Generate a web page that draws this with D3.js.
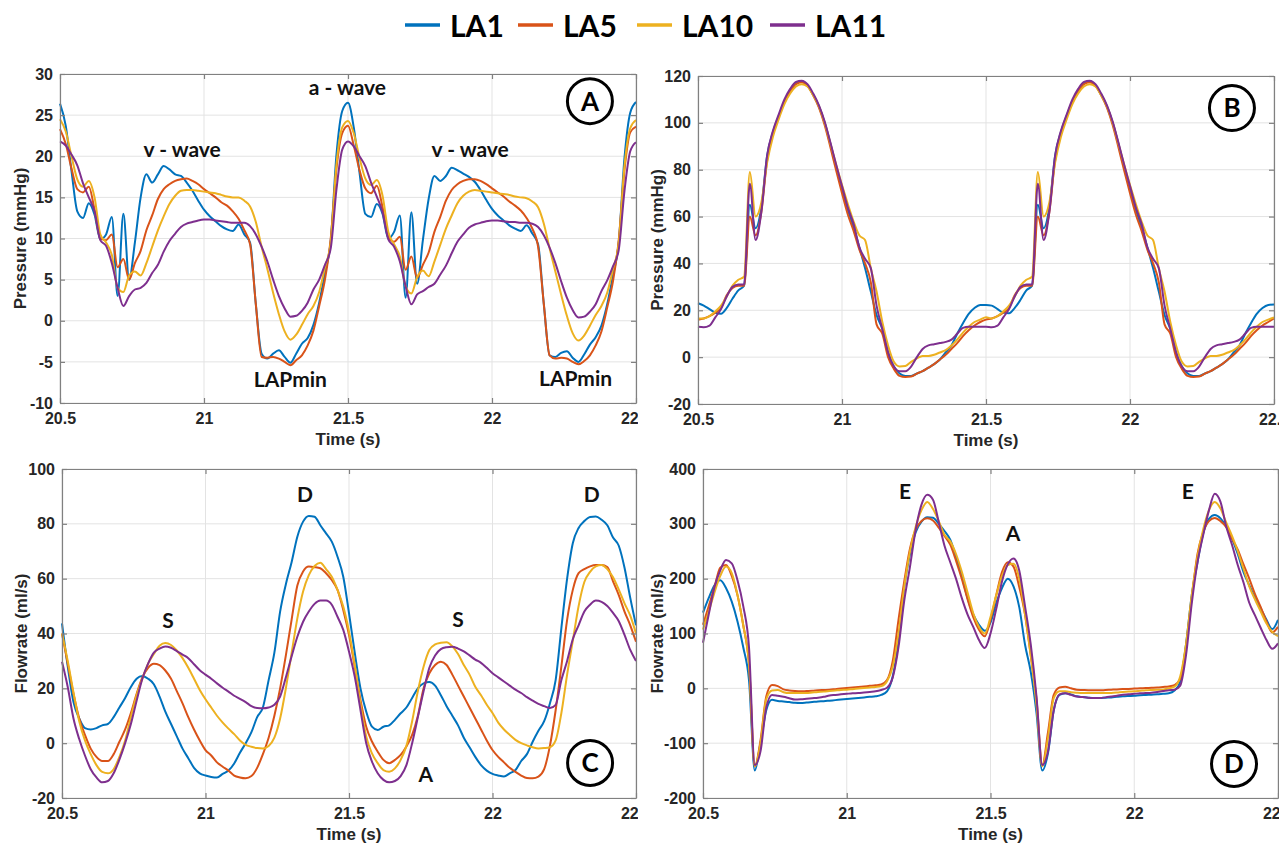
<!DOCTYPE html>
<html>
<head>
<meta charset="utf-8">
<script src="https://cdn.jsdelivr.net/npm/d3@7"></script>
<style>
  body { margin: 0; background: #fff; }
</style>
</head>
<body>
<svg id="fig" width="1279" height="845"></svg>
<script>
// series + sampling (every trace sampled each 0.02 s from 20.5 s to 22.5 s)
var seriesNames = ["LA1", "LA5", "LA10", "LA11"];
var seriesColors = ["#0072BD", "#D95319", "#EDB120", "#7E2F8E"];
var timeStart = 20.5, timeStep = 0.02;
var timeTicks = [20.5, 21, 21.5, 22, 22.5];

// (A) LA pressure, mmHg
var laPressTicks = [-10, -5, 0, 5, 10, 15, 20, 25, 30];
var laPress1 = [26.4, 23.7, 18.2, 13.3, 12.5, 14.3, 12.9, 9.9, 10.5, 12.6, 3.0, 13.0, 5.0, 9.5, 15.0, 17.8, 16.8, 17.8, 18.8, 18.4, 17.8, 17.6, 16.8, 15.8, 14.6, 13.5, 12.7, 12.1, 11.5, 11.1, 10.9, 11.7, 10.5, 9.5, 2.0, -4.0, -4.6, -4.0, -3.6, -4.4, -5.1, -4.0, -2.8, -2.1, -0.5, 2.2, 5.8, 9.7, 20.2, 25.5, 26.5,
  23.5, 18.0, 13.0, 12.6, 14.2, 13.0, 10.0, 10.8, 12.8, 2.8, 13.2, 4.5, 9.8, 14.8, 17.6, 17.0, 17.6, 18.6, 18.3, 17.9, 17.5, 16.9, 15.9, 14.7, 13.6, 12.8, 12.2, 11.6, 11.2, 10.9, 11.6, 10.6, 9.3, 2.0, -4.2, -4.4, -3.9, -3.7, -4.5, -5.0, -4.1, -2.9, -2.0, -0.6, 2.0, 5.5, 9.5, 19.8, 25.3, 26.6];
var laPress5 = [23.3, 21.5, 18.5, 16.0, 15.6, 16.3, 13.5, 10.0, 9.8, 10.5, 6.5, 7.5, 5.0, 7.0, 8.5, 11.0, 12.8, 14.8, 16.0, 16.6, 17.0, 17.2, 17.3, 17.0, 16.6, 16.0, 15.5, 15.0, 14.4, 14.0, 13.3, 12.4, 11.0, 9.3, 2.0, -4.4, -4.5, -4.4, -4.6, -5.0, -5.4, -4.8, -4.2, -3.0, -1.2, 1.8, 5.0, 10.0, 18.5, 22.8, 23.7,
  21.3, 18.3, 16.1, 15.5, 16.4, 13.8, 10.2, 9.6, 10.2, 6.2, 7.8, 5.2, 6.8, 8.3, 10.8, 12.6, 14.6, 15.9, 16.6, 17.0, 17.2, 17.2, 17.0, 16.6, 16.1, 15.6, 15.1, 14.5, 14.0, 13.4, 12.5, 11.2, 9.0, 2.0, -4.2, -4.6, -4.5, -4.6, -5.0, -5.3, -4.9, -4.2, -3.0, -1.3, 1.6, 4.8, 9.8, 18.3, 22.9, 23.6];
var laPress10 = [24.5, 23.0, 20.0, 17.2, 16.3, 17.0, 15.0, 10.5, 9.5, 8.0, 4.0, 3.5, 5.5, 6.0, 5.5, 7.0, 9.0, 11.0, 12.7, 14.2, 15.2, 15.8, 15.9, 15.9, 15.8, 15.7, 15.6, 15.5, 15.3, 15.1, 15.0, 15.0, 14.6, 13.9, 12.0, 9.0, 6.3, 3.4, 0.8, -1.3, -2.3, -1.7, -0.5, 0.8, 1.8, 3.5, 6.5, 9.5, 19.0, 23.5, 24.3,
  22.8, 19.8, 17.3, 16.5, 17.1, 15.2, 10.8, 9.3, 7.8, 4.2, 3.3, 5.3, 6.1, 5.4, 7.2, 9.2, 11.2, 12.8, 14.3, 15.2, 15.7, 15.9, 15.8, 15.7, 15.6, 15.5, 15.4, 15.3, 15.1, 15.0, 14.9, 14.5, 13.8, 11.8, 8.8, 6.0, 3.2, 0.6, -1.5, -2.4, -1.8, -0.6, 0.7, 1.8, 3.4, 6.3, 9.4, 18.8, 23.4, 24.4];
var laPress11 = [21.8, 21.3, 20.2, 18.9, 16.7, 15.0, 13.3, 9.8, 9.1, 7.0, 4.0, 1.8, 3.0, 3.8, 4.0, 4.6, 5.8, 6.8, 8.4, 9.7, 10.6, 11.4, 11.8, 12.0, 12.2, 12.3, 12.3, 12.2, 12.1, 12.0, 11.9, 11.9, 11.9, 11.5, 10.5, 9.0, 7.2, 5.0, 3.0, 1.5, 0.5, 0.6, 1.2, 2.2, 3.8, 5.0, 6.8, 8.8, 16.0, 20.8, 21.8,
  21.2, 20.0, 18.8, 16.8, 15.1, 13.2, 9.9, 9.0, 7.2, 4.2, 2.0, 3.2, 3.6, 4.1, 4.5, 5.6, 6.7, 8.2, 9.6, 10.5, 11.3, 11.7, 11.9, 12.1, 12.2, 12.2, 12.1, 12.0, 12.0, 11.9, 11.9, 11.8, 11.4, 10.4, 8.9, 7.0, 4.8, 2.8, 1.3, 0.4, 0.5, 1.1, 2.0, 3.6, 4.9, 6.6, 8.6, 15.8, 20.6, 21.7];

// (B) LV pressure, mmHg
var lvPressTicks = [-20, 0, 20, 40, 60, 80, 100, 120];
var lvPress1 = [23, 22, 20.5, 19, 18.5, 21, 25, 28.5, 30.5, 65, 55, 64, 86, 96, 102.8, 109, 113.5, 116.8, 117.9, 116, 112, 107, 100, 91, 81, 72, 63, 55.5, 47, 38, 28, 18, 12, 2, -4, -7, -8, -8, -7, -6, -4.5, -3, -1, 2, 5, 10, 14.5, 18.5, 21, 22.3, 22.3,
  22, 20.5, 19, 18.7, 21, 24.5, 28.5, 30.5, 65, 55, 64, 86, 96, 103, 109, 113.5, 116.8, 117.9, 116, 112, 107, 100, 91, 81, 72, 63, 55.5, 47, 38, 28, 18, 12, 2, -4, -7, -8, -8, -7, -6, -4.5, -3, -1, 2, 5, 10, 14.5, 18.5, 21, 22.3, 22.5];
var lvPress5 = [16, 16.5, 17.5, 19, 21, 26.5, 29.5, 30.5, 30.5, 60, 52, 62, 84, 95, 102.5, 109, 113.5, 116.5, 117.3, 115.8, 111.8, 106.5, 99, 89.5, 79.5, 70, 61, 54, 46, 40, 32, 14, 10, 0, -5, -8, -8.5, -8.3, -7, -6, -4.5, -3, -1, 1, 3.5, 6, 9, 11.5, 13.5, 15, 16,
  16.5, 17.5, 19, 21, 26.5, 29.5, 30.5, 30.5, 60, 52, 62, 84, 95, 102.5, 109, 113.5, 116.5, 117.3, 115.8, 111.8, 106.5, 99, 89.5, 79.5, 70, 61, 54, 46, 40, 32, 14, 10, 0, -5, -8, -8.5, -8.3, -7, -6, -4.5, -3, -1, 1, 3.5, 6, 9, 11.5, 13.5, 15, 16.5];
var lvPress10 = [16.5, 16.5, 17.5, 19.5, 22, 26, 30.5, 33, 34.3, 79, 60, 66, 83, 94, 101.5, 108, 112.5, 115.5, 116.5, 115.5, 111.8, 107, 100, 91, 82, 73.5, 65.5, 58, 52, 50, 38, 28, 15, 5, -2, -4, -3.8, -2, -0.5, 0.5, 0.5, 1, 2, 3, 5, 7.5, 10.5, 13, 15, 16, 17,
  16.5, 17.5, 19.5, 22, 26, 30.5, 33, 34.3, 79, 60, 66, 83, 94, 101.5, 108, 112.5, 115.5, 116.5, 115.5, 111.8, 107, 100, 91, 82, 73.5, 65.5, 58, 52, 50, 38, 28, 15, 5, -2, -4, -3.8, -2, -0.5, 0.5, 0.5, 1, 2, 3, 5, 7.5, 10.5, 13, 15, 16, 17];
var lvPress11 = [13, 12.8, 13.5, 17, 20.5, 26, 30, 31, 31, 74, 50, 62, 86, 96.5, 103.5, 110, 114.5, 117.5, 118, 116.5, 112.5, 107.5, 100.5, 91.5, 82, 73, 64, 57, 47, 42, 38, 22, 12, 2, -4, -6, -6, -4, 0, 3.5, 5, 5.5, 6, 6.5, 7.5, 10, 12.5, 13, 13, 13, 13,
  12.8, 13.5, 17, 20.5, 26, 30, 31, 31, 74, 50, 62, 86, 96.5, 103.5, 110, 114.5, 117.5, 118, 116.5, 112.5, 107.5, 100.5, 91.5, 82, 73, 64, 57, 47, 42, 38, 22, 12, 2, -4, -6, -6, -4, 0, 3.5, 5, 5.5, 6, 6.5, 7.5, 10, 12.5, 13, 13, 13, 13];

// (C) pulmonary vein flowrate, ml/s
var pvFlowTicks = [-20, 0, 20, 40, 60, 80, 100];
var pvFlow1 = [43.7, 28, 15, 9, 5.5, 5, 5.5, 6.5, 7, 9.5, 13, 16.5, 20.5, 23.5, 24.5, 23.5, 21.5, 17, 11.5, 7, 2.5, -2, -5.5, -9, -11, -11.8, -12.3, -12.5, -11.2, -10, -7.4, -3.5, 0, 4, 9.5, 13, 23, 33, 48, 58, 66, 75.3, 80.8, 82.9, 82.6, 79.5, 76.5, 73.5, 68, 60.7, 47.4,
  33, 20, 11.5, 6, 4.8, 6, 6.5, 8.5, 10.9, 13, 16.5, 20, 21.8, 22.3, 21, 17.5, 13.5, 10, 6.5, 2, -1.5, -5, -8, -10, -11.2, -11.8, -12.2, -11, -9.8, -6.5, -4, 0.5, 4.5, 8, 14.5, 23, 42, 60, 73, 78.5, 81, 82.5, 82.7, 81.5, 79.5, 75, 72, 64, 53, 43];
var pvFlow5 = [40, 29, 18, 9, 3, -2, -5, -6.5, -6.5, -4, 0.5, 5, 11, 18, 24, 27.5, 29, 28.5, 26.5, 23.5, 19, 14.5, 9.5, 5, 1, -2.5, -4.5, -7, -8.6, -10, -11.8, -12.5, -12.8, -12, -9, -4, 2, 10, 20, 32, 45, 57.5, 62.6, 64.4, 64.2, 63.8, 62, 59.5, 55.9, 48.6, 39.5,
  27.9, 15.8, 6, 0.6, -3.1, -6.1, -7.3, -6.1, -4.3, -1.2, 3, 10, 20, 25.5, 28.5, 29.7, 28.5, 25, 21, 17, 13, 9, 5, 1, -2.5, -5, -7, -9, -10.5, -11.8, -12.7, -12.8, -12.2, -9.5, -1, 12, 28, 45, 56, 62, 63.5, 64.5, 65, 65, 64.2, 59, 54, 48, 43, 37];
var pvFlow10 = [40, 30, 18.5, 8, 1, -4, -8, -10.5, -11, -9.5, -5, 1, 9.5, 17.5, 23.5, 29, 32.5, 35.5, 36.5, 35.8, 33.8, 31, 27.5, 23.5, 19.4, 16, 13, 10, 7.5, 5.3, 3.3, 1, -0.6, -1.3, -1.8, -1.9, -1, 2, 9, 20, 32.8, 45.5, 55.3, 61.3, 64.6, 65.8, 63.5, 60.7, 55.9, 49.8, 40.7,
  28.5, 14.5, 2.4, -3.7, -7.3, -9.8, -10.4, -9.2, -6.1, -1, 8, 19, 28, 34, 36, 36.6, 36.8, 35.3, 32.5, 28.5, 25, 20.6, 17.5, 14, 11, 7.5, 5, 3, 1.2, 0, -0.8, -1.5, -1.9, -1.8, -1.5, 1, 11, 25, 37.5, 50, 58.8, 62.5, 64.5, 65, 63.5, 60.5, 56, 51, 46.5, 40];
var pvFlow11 = [29.7, 20.5, 9, 1.5, -4.5, -9.5, -12.5, -14.3, -13.8, -11, -6, 0, 7, 15.5, 23.5, 29, 33, 34.5, 35.3, 34.8, 33.6, 32.3, 31, 28.8, 26.6, 25, 23.5, 21.8, 20.2, 18.8, 17.3, 16.2, 15, 13.5, 12.8, 12.7, 13, 14, 17, 24, 31.6, 38.8, 44.3, 48, 50.8, 52, 52, 50.5, 46.1, 41.3, 33.4,
  24.3, 12.1, 0, -6.7, -11, -13.4, -14.3, -13.8, -12, -8, 0, 9.5, 19, 27.5, 32, 34.3, 35, 35.2, 34.5, 33.5, 32, 30.5, 29.3, 27.5, 25.5, 24, 22.5, 21, 19.5, 18.3, 16.8, 15.5, 14.3, 13.5, 12.8, 14, 23, 30, 38, 43, 48, 50.5, 52, 51.5, 50, 47.5, 44.5, 39.5, 34, 30];

// (D) mitral flowrate, ml/s
var mvFlowTicks = [-200, -100, 0, 100, 200, 300, 400];
var mvFlow1 = [138, 165, 188, 197, 183, 158, 122, 75, 15, -150, -100, -40, -21, -23, -24, -25, -26.5, -26.8, -26, -25, -24, -23.5, -22.5, -21.5, -20.5, -19.5, -18.5, -17.5, -16.5, -15.5, -14.5, -12, -5.5, 22, 85, 185, 245, 285, 304, 312, 311, 300, 287, 271, 240, 205, 165, 135, 116, 105, 120,
  155, 183, 200, 186, 148, 80, 30, -45, -150, -118, -40, -12, -9, -11, -14.6, -16, -17, -17.7, -17.7, -17, -16.5, -15.5, -14.6, -14, -13.5, -12.5, -12, -11.5, -11, -10, -9, -4, 12, 80, 170, 230, 283, 309, 316, 310, 295, 273, 245, 212, 188, 165, 145, 125, 108, 125];
var mvFlow5 = [116, 150, 185, 220, 225, 205, 170, 115, 45, -142, -95, -15, 6, 4, -2, -4, -5, -5.5, -5, -4.5, -3.5, -3, -2.5, -1.5, -0.5, 0.5, 1.5, 2.5, 3.5, 4.5, 5.5, 7, 15, 50, 125, 195, 255, 290, 305, 310, 306, 293, 278, 262, 233, 200, 163, 130, 107, 95, 125,
  170, 212, 230, 222, 185, 135, 60, -20, -140, -80, -12, 1.5, 3, 0, -2.5, -3, -3.5, -3.7, -3.7, -3, -2.5, -2, -1.3, -1, -0.5, 0, 0.5, 1, 1.5, 2.5, 3.5, 6, 17, 77, 165, 245, 285, 305, 310.6, 305, 294, 273, 253, 226, 200, 172, 148, 122, 102, 112];
var mvFlow10 = [107, 140, 175, 205, 222, 210, 170, 115, 45, -142, -100, -20, -4, -3, -7, -8.5, -8.5, -8.5, -8.5, -7.5, -6.5, -6, -5, -4, -3, -2.5, -1.5, -0.5, 0.5, 1.5, 2.5, 4, 13, 40, 100, 185, 250, 295, 325, 340, 327, 305, 280, 268, 245, 213, 175, 137, 112, 100, 130,
  170, 205, 225, 227, 200, 135, 60, -30, -142, -90, -18, -5.5, -5.5, -7, -8, -8.6, -8.6, -8.6, -8.6, -8.6, -8.3, -7.5, -6.5, -5.8, -5.5, -4.5, -3.5, -3, -2.7, -2.5, 0, 3, 22, 80, 170, 240, 290, 325, 340, 328, 302, 278, 250, 218, 186, 162, 140, 118, 103, 95];
var mvFlow11 = [83, 135, 185, 215, 234, 228, 197, 150, 75, -140, -115, -35, -12, -13.5, -15.5, -18, -20.5, -20, -19, -18, -17, -15.5, -13, -12, -11, -10, -9, -8.5, -7.5, -6.5, -5.5, -3, 1, 20, 75, 160, 222, 290, 335, 353, 344, 303, 260, 230, 200, 165, 135, 112, 88, 73.5, 100,
  145, 195, 226, 237, 215, 150, 80, -15, -140, -115, -40, -11, -9, -12, -15, -16, -17, -17.5, -17.7, -16.5, -15, -13.5, -11.6, -11, -10, -9, -8.6, -8, -6.5, -5, -3.5, -2.5, 5, 60, 155, 230, 280, 325, 355, 340, 295, 262, 225, 193, 156, 133, 110, 88, 72, 82];

// text annotations, placed in data units (time, value)
var notesA = [["v - wave", 20.924, 19.9], ["v - wave", 21.924, 19.9], ["a - wave", 21.498, 27.5], ["LAPmin", 21.30, -8.0], ["LAPmin", 22.29, -7.9]];
var notesB = [];
var notesC = [["S", 20.869, 42], ["S", 21.880, 42.3], ["D", 21.347, 88], ["D", 22.346, 88], ["A", 21.768, -14.2]];
var notesD = [["E", 21.203, 345], ["E", 22.186, 345], ["A", 21.578, 269]];

var root = d3.select("#fig");
var fontText = "Lato, 'Open Sans', sans-serif";
var fontAxis = "'Liberation Sans', Arial, sans-serif";

// legend across the top
var legendX = [405, 518, 637, 770];
seriesNames.forEach(function(name, i) {
  root.append("line")
      .attr("x1", legendX[i]).attr("x2", legendX[i] + 35)
      .attr("y1", 25).attr("y2", 25)
      .attr("stroke", seriesColors[i]).attr("stroke-width", 3.5);
  root.append("text")
      .attr("x", legendX[i] + 45).attr("y", 37)
      .attr("font-family", fontText).attr("font-weight", "bold").attr("font-size", 30)
      .attr("fill", "#000")
      .text(name);
});

var panels = [
  {badge: "A", badgeAt: [22.34, 26.7], frame: [0, 45, 638, 458], plot: [60, 74, 636, 403], yDomain: [-10, 30], yTicks: laPressTicks,
   yLabel: "Pressure (mmHg)", yLabelX: 20, series: [laPress1, laPress5, laPress10, laPress11], notes: notesA},
  {badge: "B", badgeAt: [22.354, 106.3], frame: [640, 45, 1279, 458], plot: [698, 76, 1274, 404], yDomain: [-20, 120], yTicks: lvPressTicks,
   yLabel: "Pressure (mmHg)", yLabelX: 657, series: [lvPress1, lvPress5, lvPress10, lvPress11], notes: notesB},
  {badge: "C", badgeAt: [22.34, -7.2], frame: [0, 458, 638, 845], plot: [62, 469, 636, 798], yDomain: [-20, 100], yTicks: pvFlowTicks,
   yLabel: "Flowrate (ml/s)", yLabelX: 21, series: [pvFlow1, pvFlow5, pvFlow10, pvFlow11], notes: notesC},
  {badge: "D", badgeAt: [22.347, -138], frame: [640, 458, 1279, 845], plot: [703, 469, 1278, 798], yDomain: [-200, 400], yTicks: mvFlowTicks,
   yLabel: "Flowrate (ml/s)", yLabelX: 657, series: [mvFlow1, mvFlow5, mvFlow10, mvFlow11], notes: notesD}
];

panels.forEach(drawPanel);

function drawPanel(p) {
  var left = p.plot[0], top = p.plot[1], right = p.plot[2], bottom = p.plot[3];

  // each sub-figure is cropped to its own frame, like the cut-off "22.5" labels
  var frame = root.append("svg")
      .attr("x", p.frame[0]).attr("y", p.frame[1])
      .attr("width", p.frame[2] - p.frame[0]).attr("height", p.frame[3] - p.frame[1])
      .style("overflow", "hidden");
  var g = frame.append("g").attr("transform", "translate(" + (-p.frame[0]) + "," + (-p.frame[1]) + ")");

  var x = d3.scaleLinear().domain([timeTicks[0], timeTicks[timeTicks.length - 1]]).range([left, right]);
  var y = d3.scaleLinear().domain(p.yDomain).range([bottom, top]);

  // grid
  g.append("g").selectAll("line").data(timeTicks).join("line")
      .attr("x1", function(d) { return x(d); }).attr("x2", function(d) { return x(d); })
      .attr("y1", top).attr("y2", bottom)
      .attr("stroke", "#e3e3e3").attr("stroke-width", 1);
  g.append("g").selectAll("line").data(p.yTicks).join("line")
      .attr("x1", left).attr("x2", right)
      .attr("y1", function(d) { return y(d); }).attr("y2", function(d) { return y(d); })
      .attr("stroke", "#e3e3e3").attr("stroke-width", 1);

  // traces
  var line = d3.line()
      .x(function(d, i) { return x(timeStart + i * timeStep); })
      .y(function(d) { return y(d); })
      .curve(d3.curveMonotoneX);
  p.series.forEach(function(vals, i) {
    g.append("path")
        .datum(vals)
        .attr("d", line)
        .attr("fill", "none")
        .attr("stroke", seriesColors[i])
        .attr("stroke-width", 2)
        .attr("stroke-linejoin", "round");
  });

  // box with inward ticks on all sides
  var fmt = function(d) { return String(d); };
  g.append("g").attr("transform", "translate(0," + bottom + ")")
      .call(d3.axisBottom(x).tickValues(timeTicks).tickFormat(fmt).tickSize(-5).tickSizeOuter(0).tickPadding(10));
  g.append("g").attr("transform", "translate(0," + top + ")")
      .call(d3.axisTop(x).tickValues(timeTicks).tickFormat("").tickSize(-5).tickSizeOuter(0));
  g.append("g").attr("transform", "translate(" + left + ",0)")
      .call(d3.axisLeft(y).tickValues(p.yTicks).tickFormat(fmt).tickSize(-5).tickSizeOuter(0).tickPadding(7));
  g.append("g").attr("transform", "translate(" + right + ",0)")
      .call(d3.axisRight(y).tickValues(p.yTicks).tickFormat("").tickSize(-5).tickSizeOuter(0));
  g.selectAll(".domain, .tick line").attr("stroke", "#808080").attr("stroke-width", 1.2);
  g.selectAll(".tick text")
      .attr("font-family", fontAxis).attr("font-weight", "bold").attr("font-size", 16).attr("fill", "#262626");

  // axis titles
  g.append("text")
      .attr("x", (left + right) / 2).attr("y", bottom + 42)
      .attr("text-anchor", "middle")
      .attr("font-family", fontAxis).attr("font-weight", "bold").attr("font-size", 17).attr("fill", "#262626")
      .text("Time (s)");
  g.append("text")
      .attr("transform", "translate(" + p.yLabelX + "," + (top + bottom) / 2 + ") rotate(-90)")
      .attr("dy", "0.35em")
      .attr("text-anchor", "middle")
      .attr("font-family", fontAxis).attr("font-weight", "bold").attr("font-size", 17).attr("fill", "#262626")
      .text(p.yLabel);

  // wave annotations
  p.notes.forEach(function(n) {
    g.append("text")
        .attr("x", x(n[1])).attr("y", y(n[2]))
        .attr("text-anchor", "middle")
        .attr("font-family", fontText).attr("font-weight", "bold").attr("font-size", 21).attr("fill", "#111")
        .text(n[0]);
  });

  // circled panel letter
  var bx = x(p.badgeAt[0]), by = y(p.badgeAt[1]);
  g.append("circle").attr("cx", bx).attr("cy", by).attr("r", 22.5)
      .attr("fill", "#fff").attr("stroke", "#000").attr("stroke-width", 3);
  g.append("text")
      .attr("x", bx).attr("y", by).attr("dy", "0.36em")
      .attr("text-anchor", "middle")
      .attr("font-family", fontText).attr("font-weight", "bold").attr("font-size", 26).attr("fill", "#000")
      .text(p.badge);
}
</script>
</body>
</html>
